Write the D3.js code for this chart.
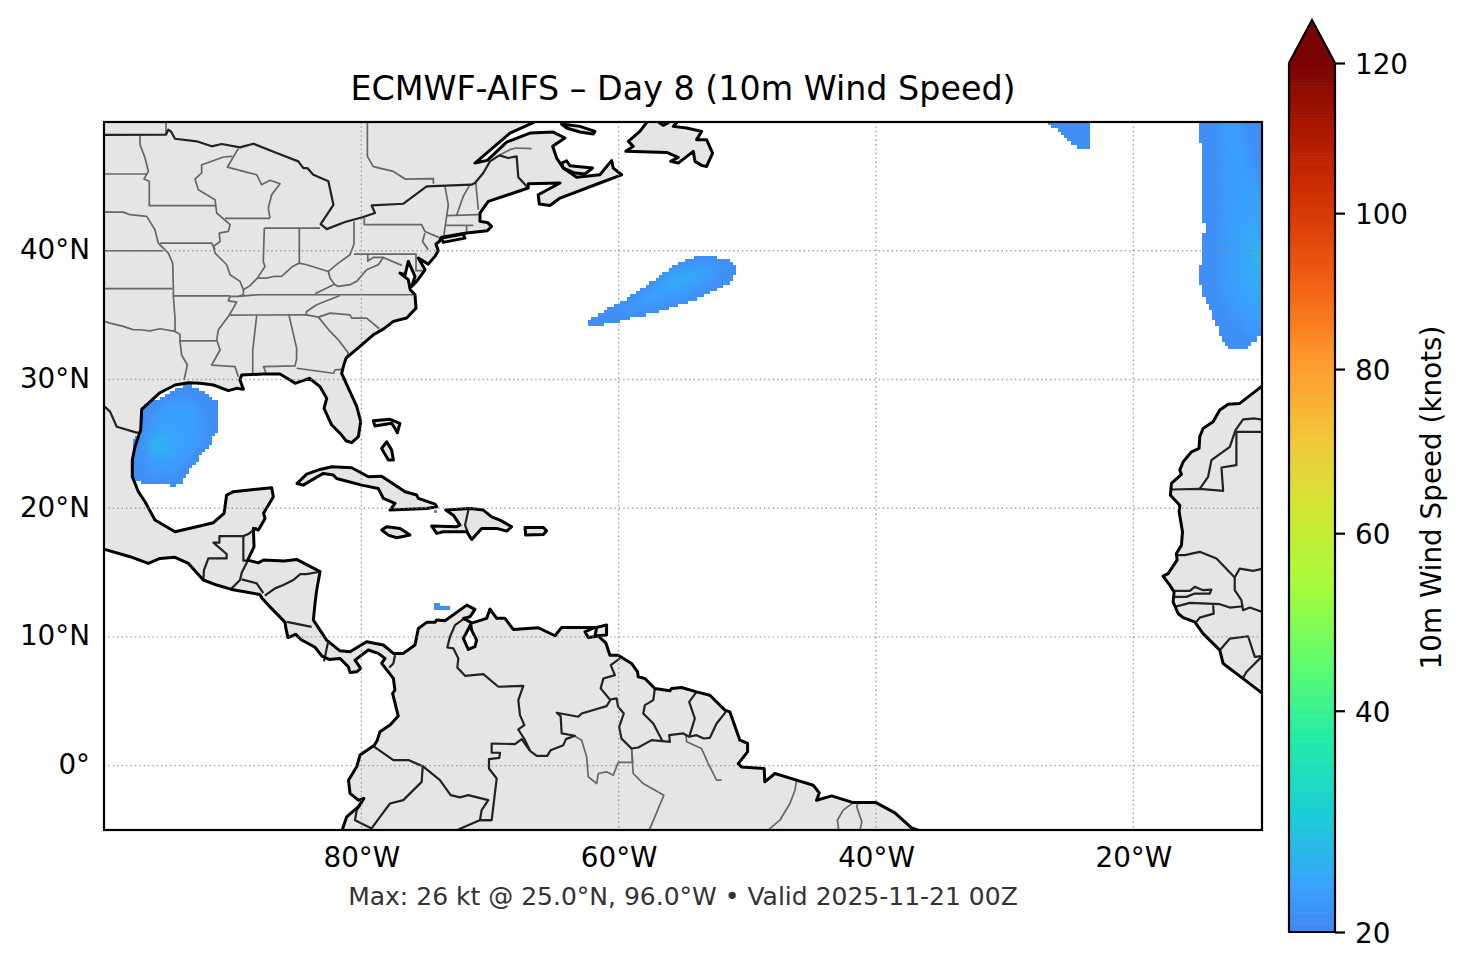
<!DOCTYPE html>
<html lang="en">
<head>
<title>ECMWF-AIFS Day 8 10m wind speed</title>
<meta charset="utf-8">

<script src="https://d3js.org/d3.v7.min.js"></script>

<style type="text/css">

body {
	margin: 0;
	background: #fff;
	font-family: "DejaVu Sans", sans-serif;
}

svg {
	display: block;
}

</style>

</head>

<body>

<div id="vis"></div>


<script>


/* Data: all in lon/lat degrees or knots */
/* ===================================== */

var lonTicks = [-80, -60, -40, -20];
var latTicks = [40, 30, 20, 10, 0];
var windTicks = [20, 40, 60, 80, 100, 120];

var turboStops = ['#30123b','#4145ab','#4675ed','#39a2fc','#1bcfd4','#24eca6','#61fc6c','#a4fc3b','#d1e834','#f3c63a','#fe9b2d','#f36315','#d93806','#b11901','#7a0403'];

// the Americas, running clockwise, closed off-frame
var landAmericas = [[-102,52],[-66.3,52],[-66.4,50.2],[-66.64,49.95],[-68.45,49.14],[-71.17,46.81],[-70.21,47.02],[-68.71,48.44],[-66.9,49.14],[-65.08,49.22],[-64.18,48.76],[-65.13,48.11],[-64.82,47.2],[-64.3,46.42],[-63.27,45.7],[-61.46,45.9],[-60.55,47],[-60.42,46.42],[-59.77,45.9],[-61.46,45.26],[-64.56,44.09],[-65.34,43.52],[-66.17,43.63],[-66.25,44.35],[-64.56,45.26],[-67.03,45.2],[-67.03,44.87],[-70.13,43.83],[-70.78,42.93],[-70.78,42.28],[-70.21,42.2],[-69.88,41.89],[-70.21,41.55],[-71.82,41.37],[-73.76,41.04],[-73.94,40.72],[-74.2,40.52],[-74.02,40],[-74.28,39.56],[-74.8,38.96],[-75.57,39.43],[-75.05,38.52],[-75.7,37.62],[-76.09,37.23],[-75.83,38],[-76.35,39.17],[-76.6,38.13],[-77,38.26],[-76.35,37.75],[-76.2,36.97],[-75.83,36.58],[-75.75,35.54],[-76.48,34.77],[-77.51,34.51],[-78.29,33.91],[-79.07,33.47],[-79.97,32.69],[-81.19,31.66],[-81.4,31],[-81.53,30.48],[-81,29.3],[-80.36,27.9],[-80.05,26.72],[-80.23,25.55],[-80.75,25.09],[-81.19,25.24],[-81.53,25.68],[-82.3,26.46],[-82.9,27.76],[-82.69,28.53],[-83.21,29.44],[-84.04,30.09],[-85.15,29.7],[-85.54,29.96],[-86.32,30.42],[-87.6,30.42],[-89.3,30.35],[-89.43,29.96],[-89.17,29.23],[-89.69,29.31],[-90.34,29.13],[-91.5,29.57],[-92.54,29.7],[-93.44,29.75],[-94.48,29.57],[-95.65,28.97],[-97.07,27.68],[-97.15,26.07],[-97.59,24.78],[-97.8,23.74],[-97.8,22.45],[-97.33,21.28],[-96.81,20.5],[-96.04,19.08],[-94.48,18.17],[-92.8,18.56],[-91.5,18.87],[-90.67,19.6],[-90.47,21.02],[-89.95,21.28],[-86.97,21.59],[-86.84,20.89],[-87.6,19.6],[-87.48,19.2],[-88,18.3],[-88.39,18.43],[-88.34,17],[-88.83,15.97],[-88,15.75],[-87.6,15.97],[-86,15.9],[-85.03,16.02],[-83.21,15.07],[-83.35,14.3],[-83.47,13.63],[-83.6,12.6],[-83.73,11.3],[-82.7,9.75],[-81.66,8.92],[-80.88,8.85],[-79.59,9.62],[-78.29,9.37],[-77.51,8.72],[-76.74,8.72],[-75.83,9.37],[-75.57,10.66],[-74.92,11.13],[-74.28,11.13],[-74.15,11.31],[-73.5,11.26],[-71.8,12.47],[-71.17,12.14],[-71.55,11.57],[-72.07,11.44],[-71.43,11.1],[-72.07,9.88],[-71.69,9.03],[-71.17,9.24],[-71.04,9.75],[-71.43,10.53],[-71.5,11.05],[-70.26,11.44],[-70,12.16],[-69.48,11.44],[-68.84,11.44],[-68.19,10.58],[-66.25,10.71],[-64.95,10.09],[-64.43,10.74],[-61.84,10.74],[-62.62,10.4],[-62.36,9.96],[-61.58,10.06],[-61,9.54],[-60.68,8.58],[-60.04,8.58],[-59,7.94],[-58.53,7.29],[-58.48,6.9],[-57.96,6.77],[-57.19,5.99],[-56.02,5.81],[-55.89,5.99],[-55.11,6.07],[-53.95,5.73],[-52.91,5.47],[-51.74,4.31],[-51.36,4.18],[-50.58,1.98],[-49.98,1.72],[-49.98,1.07],[-50.71,0.16],[-50.45,-0.1],[-48.69,-0.22],[-48.64,-1.26],[-47.86,-0.61],[-46.17,-1.13],[-44.88,-1.52],[-44.41,-2.12],[-44.62,-2.69],[-43.45,-2.35],[-41.77,-2.87],[-40,-2.87],[-38.53,-3.67],[-37.24,-4.84],[-36.5,-5.1],[-35,-5.3],[-35,-7],[-81.4,-7],[-81.45,-4.88],[-81.14,-3.98],[-80.24,-3.2],[-79.8,-2.55],[-80.24,-2.68],[-80.88,-2.16],[-81,-1.13],[-80.36,-0.09],[-80.1,0.82],[-78.99,1.59],[-78.76,1.98],[-78.55,2.63],[-77.77,3.15],[-77.13,3.85],[-77.31,4.57],[-77.57,5.61],[-77.39,5.87],[-77.51,6.78],[-78.42,7.94],[-78.16,8.33],[-78.68,8.72],[-79.46,8.98],[-80.49,8.2],[-80.05,7.55],[-80.36,7.29],[-80.88,7.24],[-81.01,7.68],[-81.66,8.33],[-82.5,8.25],[-83.06,8.51],[-83.6,9.2],[-84.7,9.8],[-85.1,10.2],[-85.7,9.95],[-85.85,10.6],[-85.94,11.15],[-87.25,12.49],[-87.72,13.01],[-87.9,13.3],[-90.08,13.69],[-91.24,14.03],[-92.28,14.42],[-93.44,15.71],[-94.48,16.18],[-95.65,16.1],[-96.55,15.71],[-97.98,16.23],[-99.95,16.8],[-102,17.6]];

var landAfrica = [[-8,31],[-9.5,30],[-10.12,29.38],[-11.73,28.14],[-12.63,28.08],[-13.28,27.62],[-13.8,26.71],[-14.58,26.19],[-14.84,25.55],[-14.89,24.64],[-15.48,24.38],[-16.13,23.6],[-16.39,22.96],[-16.26,22.62],[-17.04,21.92],[-17.12,21],[-16.39,20.23],[-16.44,19.72],[-16.18,18.16],[-16.26,17.13],[-16.65,16.48],[-16.6,15.96],[-17.3,14.92],[-17.69,14.72],[-17.17,14.02],[-16.83,13.5],[-16.91,12.72],[-16.52,11.82],[-16.13,11.5],[-15.23,11.17],[-14.58,10.26],[-13.28,8.97],[-13.02,7.93],[-11.47,6.76],[-10.12,5.73],[-9,5],[-8,4.5]];

var islands = [
	// Cuba, Great Bahama, Andros, Jamaica, Hispaniola, Puerto Rico
	[[-85,21.92],[-84.25,22.65],[-83.21,23.01],[-82.3,23.22],[-80.75,23.14],[-79.45,22.44],[-78.42,22.49],[-76.6,21.28],[-75.7,21.02],[-75.57,20.76],[-74.27,20.32],[-74.14,20.11],[-74.92,19.98],[-77.77,19.85],[-77.38,20.37],[-78.29,20.76],[-78.68,21.53],[-79.97,21.79],[-81.92,22.31],[-82.17,22.57],[-82.95,22.7],[-83.86,22.18],[-84.51,21.79]],
	[[-79.07,26.79],[-77.77,26.9],[-77,26.59],[-77.2,25.86],[-77.38,26.2],[-77.64,26.59],[-78.94,26.38]],
	[[-78.03,25.16],[-78.42,24.64],[-77.9,23.74],[-77.51,23.74],[-77.64,24.51]],
	[[-78.42,18.3],[-78.03,18.56],[-76.99,18.43],[-76.22,17.91],[-77.25,17.7],[-77.9,17.91]],
	[[-74.53,18.61],[-72.59,18.56],[-72.33,18.68],[-72.85,19.46],[-73.44,19.85],[-71.55,19.98],[-70.52,19.85],[-69.87,19.33],[-69.22,19.07],[-68.32,18.56],[-68.7,18.22],[-69.48,18.43],[-70.65,18.43],[-71.42,17.57],[-71.81,18.17],[-73.63,18.17],[-74.14,18.04]],
	[[-67.28,18.5],[-65.85,18.5],[-65.6,18.24],[-65.85,17.96],[-67.23,17.91]],
	// Trinidad, Long Island
	[[-61.71,10.74],[-60.94,10.92],[-60.94,10.14],[-61.84,10.07]],
	[[-73.76,40.98],[-72.08,41.3],[-71.95,40.98],[-73.63,40.65]],
	// Newfoundland, Prince Edward Island, Anticosti
	[[-57.83,49.95],[-58.35,49.27],[-59.25,48.5],[-58.87,48.11],[-59.44,47.72],[-56.27,47.64],[-55.37,47.25],[-55.96,46.94],[-55.37,46.81],[-54.2,47.72],[-54.07,46.94],[-53.55,46.63],[-53.17,46.55],[-52.7,47.59],[-53.17,48.63],[-53.94,48.63],[-53.55,49.27],[-54.72,49.53],[-55.76,49.66],[-55.5,49.95],[-55.6,50.5],[-56.1,50.5],[-56.15,49.95],[-56.53,49.74],[-56.84,49.95],[-56.9,50.5],[-57.3,51]],
	[[-64.44,46.81],[-64.05,46.99],[-63.79,46.6],[-62.03,46.42],[-62.62,45.96],[-63.4,46.03],[-64.3,46.42]],
	[[-64.44,49.84],[-63.01,49.66],[-61.84,49.27],[-61.97,49.07],[-63.01,49.22],[-64.05,49.53]]
];

// country borders
var countryBorders = [
	[[-102,49],[-95.18,49.01],[-95,49.4],[-94.8,49.27],[-94.48,48.7],[-92.8,48.5],[-91.63,48.11],[-90.85,48.29],[-89.43,48.03],[-88.39,48.31],[-86.58,47.59],[-84.9,46.94],[-84.51,46.42],[-84.2,46.42],[-83.73,45.9],[-82.56,45.39],[-82.17,43.57],[-83.16,42.07],[-82.69,41.68],[-81.27,42.23],[-79.84,42.62],[-78.94,42.93],[-79.2,43.52],[-76.73,43.65],[-74.92,45],[-71.43,45.13],[-71.17,45.26],[-70.52,46.04],[-70,46.94],[-69.28,47.41],[-68.58,47.2],[-67.93,47.33],[-67.8,45.7],[-67.03,44.87]],
	[[-99.95,27.89],[-99.53,27.5],[-99.01,26.33],[-97.46,25.87],[-97.15,25.87]],
	[[-92.28,14.42],[-92.23,15.19],[-91.89,16.1],[-90.47,16.1],[-90.47,16.44],[-91.11,17],[-91.5,17.32],[-91.03,17.32],[-91.03,17.83],[-89.17,17.83],[-89.17,15.92],[-88.83,15.92]],
	[[-89.17,17.83],[-88.78,17.99],[-88.13,18.5]],
	[[-88.83,15.92],[-89.3,14.98],[-89.43,14.42],[-90.08,13.77]],
	[[-89.3,14.47],[-88.13,14.16],[-87.62,13.4]],
	[[-83.21,15.06],[-84.25,14.88],[-84.75,14.88],[-85.28,14.42],[-86.06,14.03],[-86.71,13.77],[-87.5,13.2]],
	[[-85.8,11.17],[-83.86,10.78]],
	[[-82.6,9.55],[-82.9,8.1]],
	[[-77.38,8.59],[-77.51,7.94],[-77.83,7.63]],
	[[-71.87,11.52],[-72.72,10.92],[-73.11,10.01],[-73.32,9.18],[-72.85,9.11],[-72.46,8.33],[-72.54,7.63],[-71.94,6.98],[-70.52,7.11],[-69.35,6.13],[-67.41,6.2],[-67.8,5.09],[-67.67,3.92],[-67.33,3.15],[-67.8,2.81],[-67.28,1.98],[-66.89,1.15]],
	[[-66.89,1.15],[-67.54,2.06],[-68.06,1.67],[-69.87,1.72],[-69.87,1],[-69.22,1],[-69.28,0.61],[-70.08,0.51],[-70.08,-0.22],[-69.48,-1],[-69.87,-4.24],[-70.8,-4.24],[-72.33,-4.9],[-73,-5.3]],
	[[-69.87,-4.24],[-70.78,-4.24],[-70.65,-3.46],[-70.13,-2.68],[-71.69,-2.29],[-72.33,-2.47],[-73.06,-2.29],[-73.89,-1.13],[-75.23,-0.04]],
	[[-78.99,1.46],[-77.51,0.43],[-76.35,0.43],[-75.23,-0.04],[-75.31,-1.26],[-76.74,-2.68],[-77.77,-2.94],[-78.55,-3.98],[-79.2,-4.88],[-80.49,-4.24],[-80.36,-3.46],[-79.95,-2.9]],
	[[-66.89,1.15],[-66.37,0.76],[-65.55,0.76],[-65.29,1.2],[-64.3,1.59],[-64.1,2.06],[-63.4,2.32],[-64.43,2.5],[-64.51,3.85],[-64.82,4.11],[-63.14,3.8],[-62.88,4.05],[-60.94,4.62],[-60.62,5.14],[-60.16,5.22],[-60.04,4.57],[-59.6,4.05],[-59.96,3.01],[-59.78,2.1],[-59,1.33],[-58.48,1.41],[-57.44,1.98],[-56.02,1.85],[-56.07,2.37],[-54.98,2.5],[-54.52,2.24],[-53.95,2.37],[-53.38,2.11],[-52.91,2.16],[-52.39,3.27],[-51.67,4.18]],
	[[-59.9,8.33],[-60.62,7.81],[-60.29,7.03],[-61.19,6.77],[-61.4,6],[-60.68,5.14]],
	[[-57.19,5.99],[-57.31,5.09],[-57.96,4.7],[-58.09,4.05],[-57.31,3.27],[-56.59,1.9]],
	[[-53.95,5.73],[-54.52,4.96],[-54.08,3.66],[-54.52,2.24]],
	[[-17.12,21.45],[-14.84,21.5],[-13.02,21.35],[-13.15,23.16],[-11.99,23.34],[-11.99,25.93],[-9,25.93]],
	[[-14.84,21.5],[-14.19,22.44],[-13.93,23.73],[-12.5,24.77],[-12.06,26.06],[-11.47,26.9],[-10.56,26.97],[-9,26.7]],
	[[-16.57,16.35],[-16,16.35],[-14.84,16.61],[-13.54,16.09],[-12.12,14.61],[-11.73,15.31],[-10.69,15.13],[-9,15.5]],
	[[-12.12,14.61],[-12.12,13.63],[-11.6,12.85],[-11.47,12.07],[-10.95,12.28],[-9,11.6]],
	[[-16.78,12.33],[-15.61,12.64],[-13.28,12.54],[-12.5,12.28],[-11.47,12.38]],
	[[-16.78,13.58],[-15.61,13.58],[-15.23,13.89],[-14.58,13.63],[-13.93,13.68],[-14.06,13.37],[-15.23,13.37],[-15.87,13.11],[-16.83,13.11]],
	[[-13.8,12.46],[-13.75,11.81],[-14.84,11.5],[-15.1,11.17]],
	[[-13.28,8.97],[-12.5,9.87],[-11.08,10.05],[-10.56,8.45],[-9,8.6]],
	[[-10.04,8.45],[-11.21,7.28],[-11.47,6.82]]
];

// US states, Canadian provinces, Brazilian states
var stateBorders = [
	[[-95.18,50.5],[-95.18,49]],
	[[-79.53,50.5],[-79.53,47.33],[-79.07,46.53],[-77.51,46.16],[-76.6,45.57],[-74.4,45.6],[-74.4,45.2]],
	[[-69.28,47.41],[-68.45,47.85],[-68,47.98],[-66.77,47.93]],
	[[-102,45.96],[-96.68,45.96]],
	[[-97.2,48.96],[-97.2,48.24],[-96.81,47.2],[-96.55,46.16],[-96.89,45.57],[-96.48,45.39],[-96.48,43.45]],
	[[-96.48,43.5],[-91.3,43.5]],
	[[-102,43],[-98.5,43],[-97.98,42.8],[-96.68,42.67],[-96.04,41.63],[-95.78,40.59],[-95,39.82],[-94.66,39.04],[-94.61,37.1],[-94.61,36.45],[-94.48,34.77],[-94.48,33.73]],
	[[-102,40],[-95.39,40]],
	[[-102,37.05],[-94.66,37.05]],
	[[-95.65,40.59],[-91.63,40.59],[-91.37,40.08]],
	[[-90,47.33],[-90.72,47.28],[-92,46.81],[-92.41,46.68],[-92.41,46.04],[-92.93,45.57],[-92.67,44.74],[-91.37,43.96],[-91.24,42.93],[-90.2,42.02],[-90.34,41.5],[-91.04,41.37],[-90.98,40.72],[-91.5,40.33],[-91.37,39.82],[-90.46,38.91],[-90.2,38.13],[-89.43,37.62],[-89.17,36.97],[-89.17,36.58],[-89.56,36.45],[-90.2,36.45],[-90.34,36.11],[-89.69,36.01],[-89.95,35.54],[-90.34,34.89],[-91.11,33.86],[-91.24,33.08],[-90.98,32.29],[-91.63,31.12],[-89.82,31],[-89.56,30.2]],
	[[-89.56,47.93],[-90.41,46.5],[-88.13,45.9],[-87.75,45.13],[-87.1,45.47],[-86.32,45.2],[-86.97,44.35],[-87.23,43.32],[-87.1,42.54]],
	[[-90.6,42.51],[-87.1,42.51]],
	[[-87.54,41.76],[-83.2,41.76]],
	[[-87.54,41.76],[-87.62,39.17],[-87.49,38.78],[-88.08,37.87]],
	[[-84.82,41.76],[-84.82,39.04]],
	[[-89.17,36.97],[-88.7,37.25],[-88.08,37.87],[-87.36,37.87],[-86.84,38],[-86.19,38],[-85.41,38.73],[-84.82,39.04],[-84.25,38.91],[-82.56,38.39],[-81.79,39.04],[-80.88,39.69],[-80.57,40.52],[-80.57,42.28]],
	[[-82.56,38.39],[-82.43,37.87],[-82.05,37.36],[-81.79,37.23],[-80.88,37.36],[-80.36,37.62],[-79.59,38.52],[-78.68,38.91],[-78.29,39.48],[-76.86,38.86]],
	[[-82.05,37.41],[-83.6,36.66]],
	[[-80.57,39.74],[-75.7,39.74]],
	[[-79.5,39.74],[-79.5,39.2],[-79.07,39.48],[-78.29,39.48]],
	[[-75.75,39.74],[-75.75,38.45],[-75.05,38.45]],
	[[-89.56,36.45],[-88,36.58],[-83.73,36.58],[-75.83,36.58]],
	[[-81.66,36.52],[-82.69,36.11],[-83.47,35.8],[-84.25,35.28],[-84.3,35.02]],
	[[-90.2,35],[-84.3,35.02],[-83.34,34.84],[-82.43,35.15],[-80.88,35.02],[-80.75,34.77],[-79.59,34.77],[-78.6,33.94]],
	[[-83.34,34.84],[-82.43,33.73],[-81.79,33.08],[-81.01,32.05],[-81.19,31.66]],
	[[-88.13,34.97],[-88.44,32.29],[-88.44,30.48]],
	[[-85.62,34.97],[-85.03,32.43],[-85.03,31.6],[-85.15,31.05],[-87.6,31],[-87.4,30.48]],
	[[-85.03,30.87],[-82.17,30.48],[-82.04,30.74],[-81.53,30.79]],
	[[-94.1,33],[-91.24,33]],
	[[-94.48,33.73],[-94.1,33.52],[-94.1,33],[-93.96,31.9],[-93.52,31.12],[-93.78,29.96]],
	[[-102,34.8],[-99.95,34.51],[-99.53,34.38],[-98.5,34.12],[-97.72,33.86],[-97.2,33.86],[-96.42,33.78],[-95.65,33.94],[-94.48,33.73]],
	[[-94.61,36.5],[-90.2,36.5]],
	[[-79.77,42.54],[-79.77,42.02],[-75.32,42.02],[-75.06,41.5],[-73.89,41]],
	[[-75.06,41.37],[-75.24,40.72],[-74.8,40.08]],
	[[-73.5,45],[-73.24,43.57],[-73.58,41.24]],
	[[-71.56,45.13],[-72.08,44.22],[-72.6,42.74]],
	[[-71.1,45.26],[-70.91,43.18]],
	[[-73.37,42.72],[-70.91,42.8]],
	[[-73.5,41.97],[-71.3,41.97]],
	[[-71.82,41.97],[-71.82,41.45]],
	[[-63.4,2.29],[-62.88,1.98],[-62.49,0.69],[-62.36,-0.87],[-61.71,-1.39],[-61.58,-0.61],[-60.94,-0.48],[-60.42,-0.74],[-60.03,0.25],[-58.91,0.25],[-58.99,1.26]],
	[[-59,1.33],[-58.87,-0.61],[-58.09,-1.39],[-56.49,-2.3],[-57.57,-4.89],[-58,-5.5]],
	[[-54.77,2.37],[-54.72,1.85],[-53.56,1.33],[-53.04,0.16],[-52.39,-1.13],[-52,-1.13]],
	[[-46.17,-1.13],[-46.3,-1.91],[-46.69,-2.94],[-47.47,-4.24],[-48.25,-4.89],[-48.8,-5.5]],
	[[-41.77,-2.87],[-42.55,-3.46],[-43,-4.24],[-42.9,-5.02],[-42.9,-5.5]],
	[[-41.38,-2.87],[-41.5,-3.2],[-41.1,-4.37],[-41.25,-5.02],[-41.25,-5.5]]
];

// Haiti / Dominican Republic, drawn with the country borders
var hispaniolaBorder = [[-71.68,19.85],[-71.94,18.68],[-71.55,17.65]];

// wind field above 20 kt: rows of [latNorth, latSouth, lonWest, lonEast]
var gulfRows = [[29.625,29.375,-93.875,-93.125],[29.375,29.125,-94.5,-92.625],[29.125,28.875,-94.875,-92.125],[28.875,28.625,-95.25,-91.875],[28.625,28.375,-95.625,-91.625],[28.375,28.125,-96.5,-91.125],[28.125,27.875,-96.875,-91.125],[27.875,25.875,-97.125,-91.125],[25.875,25.625,-97.125,-91.375],[25.625,25.375,-97.625,-91.625],[25.375,24.875,-97.75,-91.625],[24.875,24.625,-97.75,-91.875],[24.625,24.375,-97.75,-92.125],[24.375,24.125,-97.75,-92.375],[24.125,23.625,-97.75,-92.625],[23.625,23.375,-97.75,-92.875],[23.375,23.125,-97.75,-93.125],[23.125,22.625,-97.75,-93.375],[22.625,22.375,-97.75,-93.625],[22.375,22.125,-97.75,-93.875],[22.125,21.875,-97.125,-93.875],[21.875,21.625,-94.875,-94.375]];

var atlanticRows = [[39.625,39.375,-54.125,-52.375],[39.375,39.125,-54.875,-51.375],[39.125,38.875,-55.375,-51.125],[38.875,38.625,-55.875,-50.875],[38.625,38.375,-56.125,-50.875],[38.375,38.125,-56.625,-50.875],[38.125,37.875,-56.875,-51.125],[37.875,37.625,-57.125,-51.125],[37.625,37.375,-57.625,-51.375],[37.375,37.125,-57.875,-51.875],[37.125,36.875,-58.375,-52.375],[36.875,36.625,-58.625,-52.875],[36.625,36.375,-59.125,-53.375],[36.375,36.125,-59.375,-53.875],[36.125,35.875,-59.875,-54.625],[35.875,35.625,-60.375,-55.375],[35.625,35.375,-60.875,-56.125],[35.375,35.125,-61.125,-56.875],[35.125,34.875,-61.625,-57.875],[34.875,34.625,-62.125,-59.125],[34.625,34.375,-62.375,-59.875],[34.375,34.125,-62.375,-61.125]];

var eastRows = [[50.5,48.375,-14.875,-9],[48.375,42.125,-14.625,-9],[42.125,41.375,-14.375,-9],[41.375,38.875,-14.625,-9],[38.875,37.375,-14.875,-9],[37.375,36.375,-14.625,-9],[36.375,35.875,-14.375,-9],[35.875,35.375,-14.125,-9],[35.375,34.625,-13.875,-9],[34.625,34.125,-13.625,-9],[34.125,33.375,-13.375,-9],[33.375,32.875,-13.125,-10.375],[32.875,32.625,-12.875,-10.875],[32.625,32.375,-12.625,-11.125]];

var northRows = [[50.5,49.75,-26.625,-23.375],[49.75,49.5,-26.375,-23.375],[49.5,49.25,-25.875,-23.375],[49.25,49,-25.625,-23.375],[49,48.75,-25.375,-23.375],[48.75,48.5,-25.125,-23.375],[48.5,48.25,-24.875,-23.375],[48.25,47.875,-24.375,-23.375]];

var speckRows = [[19.875,19.625,-74.375,-74.125],[12.625,12.375,-74.375,-73.875],[12.375,12.125,-74.375,-73.125]];

// lines of equal speed read from the shading: { kt, ring }
var gulfBands = [
	{ kt: 22, ring: [[-96.9,24],[-96.9,25.8],[-96.2,27.5],[-94.5,28.7],[-92.8,28.3],[-91.9,26.5],[-92.2,25.2],[-93.5,23.6],[-95,22.4],[-96.6,22.6]] },
	{ kt: 23, ring: [[-96.7,24.9],[-95.9,26.3],[-94.8,27.8],[-93.4,27.8],[-92.7,26.5],[-93.2,25.2],[-94.3,24],[-95.5,23.2],[-96.4,23.6]] },
	{ kt: 24, ring: [[-96.6,24.8],[-95.9,25.8],[-95,26.2],[-94.3,25.4],[-94.6,24.3],[-95.6,23.9],[-96.3,24.1]] },
	{ kt: 25, ring: [[-96.5,24.9],[-95.9,25.6],[-95.2,25.3],[-95.3,24.5],[-96,24.3]] },
	{ kt: 26.5, ring: [[-96.35,24.9],[-95.9,25.35],[-95.45,25],[-95.9,24.55]] }
];

var atlanticBands = [
	{ kt: 22, ring: [[-60,35.3],[-58,36.7],[-56,38.6],[-54,39.2],[-52,38.8],[-52.3,37.9],[-54.5,36.6],[-57,35.7],[-59.5,35]] },
	{ kt: 23, ring: [[-58.3,36.2],[-56.8,37.5],[-55.3,38.6],[-53.5,38.7],[-53.2,38],[-55,36.9],[-57,36.1]] },
	{ kt: 24.5, ring: [[-56.8,37],[-55.7,38],[-54.3,38.4],[-54.2,37.8],[-55.5,37.1]] }
];

var eastBands = [
	{ kt: 22, ring: [[-13.4,50.5],[-13.2,45],[-13.4,41],[-13.4,37.5],[-12.5,35],[-11,33.5],[-9.5,33.3],[-9.5,45],[-11,47],[-11.5,50.5]] },
	{ kt: 23, ring: [[-12.8,50.5],[-12.8,48],[-12,47],[-12,44],[-12.6,41],[-12.6,38],[-11.8,35.5],[-10.5,34.5],[-9.5,34.5],[-9.5,44],[-11.5,46],[-12,50.5]] },
	{ kt: 24, ring: [[-11.5,42],[-11.5,38],[-10.5,36],[-9.5,36],[-9.5,42]] },
	{ kt: 25, ring: [[-10.7,40.5],[-10.8,38.5],[-10.2,37.5],[-9.5,37.5],[-9.5,41]] },
	{ kt: 26.5, ring: [[-10.4,40],[-10.4,38.5],[-9.5,38.3],[-9.5,40.2]] }
];

var baseWind = 20.8;

var titleText = 'ECMWF-AIFS \u2013 Day 8 (10m Wind Speed)';
var noteText = 'Max: 26 kt @ 25.0\u00b0N, 96.0\u00b0W \u2022 Valid 2025-11-21 00Z';
var cbarText = '10m Wind Speed (knots)';


/* Globals and SVG */
/* =============== */

var width = 1466,
		height = 969;

var map = { left: 104, right: 1262, top: 122, bottom: 830 };
var cbar = { left: 1289, right: 1335, top: 63, bottom: 932, tip: 20 };

var x = d3.scaleLinear().domain([-100, -10]).range([map.left, map.right]);
var y = d3.scaleLinear().domain([-5, 50]).range([map.bottom, map.top]);

// colour bar runs on a power norm above 20 kt
var cbarNorm = d3.scalePow().exponent(0.85).domain([0, 100]).range([0, 1]);
var cbarY = d3.scalePow().exponent(0.85).domain([0, 100]).range([cbar.bottom, cbar.top]);

var turbo = d3.piecewise(d3.interpolateRgb, turboStops);

function windColor(kt) {
	return turbo(0.17 + 0.83 * cbarNorm(kt - 20));
}

var geoLine = d3.line().x(function(d) { return x(d[0]); }).y(function(d) { return y(d[1]); });

var svg = d3.select('#vis')
	.append('svg')
		.attr('width', width)
		.attr('height', height);

var defs = svg.append('defs');

defs.append('clipPath').attr('id', 'map-clip')
	.append('rect')
		.attr('x', map.left)
		.attr('y', map.top)
		.attr('width', map.right - map.left)
		.attr('height', map.bottom - map.top);

defs.append('filter').attr('id', 'soft')
		.attr('filterUnits', 'userSpaceOnUse')
		.attr('x', 0).attr('y', 0).attr('width', width).attr('height', height)
	.append('feGaussianBlur')
		.attr('stdDeviation', 3.5);

var plot = svg.append('g').attr('clip-path', 'url(#map-clip)');


/* Functions */
/* ========= */

function drawRows(sel, rows, kt) {

	sel.selectAll(null)
		.data(rows)
		.enter().append('rect')
			.attr('x', function(d) { return x(d[2]); })
			.attr('y', function(d) { return y(d[0]); })
			.attr('width', function(d) { return x(d[3]) - x(d[2]); })
			.attr('height', function(d) { return y(d[1]) - y(d[0]); })
			.attr('fill', windColor(kt))
			.attr('shape-rendering', 'crispEdges');

} // drawRows()

function drawBlob(name, rows, bands) {

	var clip = defs.append('clipPath').attr('id', 'clip-' + name);
	drawRows(clip, rows, baseWind);

	drawRows(plot.append('g'), rows, baseWind);

	plot.append('g')
			.attr('clip-path', 'url(#clip-' + name + ')')
		.append('g')
			.attr('filter', 'url(#soft)')
		.selectAll('path')
		.data(bands)
		.enter().append('path')
			.attr('d', function(d) { return geoLine(d.ring) + 'Z'; })
			.attr('fill', function(d) { return windColor(d.kt); });

} // drawBlob()

function drawLand(rings, fill, stroke) {

	plot.append('g')
		.selectAll('path')
		.data(rings)
		.enter().append('path')
			.attr('d', function(d) { return geoLine(d) + 'Z'; })
			.attr('fill', fill)
			.attr('stroke', stroke)
			.attr('stroke-width', 3)
			.attr('stroke-linejoin', 'round');

} // drawLand()

function drawBorders(lines, color, w) {

	plot.append('g')
		.selectAll('path')
		.data(lines)
		.enter().append('path')
			.attr('d', geoLine)
			.attr('fill', 'none')
			.attr('stroke', color)
			.attr('stroke-width', w)
			.attr('stroke-linejoin', 'round');

} // drawBorders()

function drawGrid() {

	var grid = plot.append('g')
		.attr('stroke', '#808080')
		.attr('stroke-opacity', 0.75)
		.attr('stroke-width', 1.4)
		.attr('stroke-dasharray', '1.4 3');

	grid.selectAll('.v')
		.data(lonTicks)
		.enter().append('line')
			.attr('x1', x).attr('x2', x)
			.attr('y1', map.top).attr('y2', map.bottom);

	grid.selectAll('.h')
		.data(latTicks)
		.enter().append('line')
			.attr('y1', y).attr('y2', y)
			.attr('x1', map.left).attr('x2', map.right);

} // drawGrid()

function fmtLon(d) { return Math.abs(d) + '\u00b0W'; }
function fmtLat(d) { return d === 0 ? '0\u00b0' : d + '\u00b0N'; }

function drawAxes() {

	var xAxis = svg.append('g')
		.attr('transform', 'translate(0,' + map.bottom + ')')
		.call(d3.axisBottom(x).tickValues(lonTicks).tickSize(0).tickPadding(17).tickFormat(fmtLon));

	var yAxis = svg.append('g')
		.attr('transform', 'translate(' + map.left + ',0)')
		.call(d3.axisLeft(y).tickValues(latTicks).tickSize(0).tickPadding(14).tickFormat(fmtLat));

	[xAxis, yAxis].forEach(function(a) {
		a.select('.domain').remove();
		a.selectAll('text')
			.attr('font-family', '"DejaVu Sans"')
			.attr('font-size', 27.8)
			.attr('fill', '#000');
	});

	yAxis.selectAll('text').attr('dy', '0.29em');

	svg.append('rect')
		.attr('x', map.left)
		.attr('y', map.top)
		.attr('width', map.right - map.left)
		.attr('height', map.bottom - map.top)
		.attr('fill', 'none')
		.attr('stroke', '#000')
		.attr('stroke-width', 2.2);

} // drawAxes()

function drawColorbar() {

	var steps = d3.range(0, 100, 100 / 256);

	svg.append('g')
		.selectAll('rect')
		.data(steps)
		.enter().append('rect')
			.attr('x', cbar.left)
			.attr('width', cbar.right - cbar.left)
			.attr('y', function(d) { return cbarY(d + 100 / 256); })
			.attr('height', function(d) { return cbarY(d) - cbarY(d + 100 / 256) + 0.6; })
			.attr('fill', function(d) { return windColor(d + 20 + 50 / 256); });

	svg.append('path')
		.attr('d', d3.line()([[cbar.left, cbar.top], [(cbar.left + cbar.right) / 2, cbar.tip], [cbar.right, cbar.top]]) + 'Z')
		.attr('fill', windColor(120));

	svg.append('path')
		.attr('d', d3.line()([[cbar.left, cbar.bottom], [cbar.left, cbar.top], [(cbar.left + cbar.right) / 2, cbar.tip], [cbar.right, cbar.top], [cbar.right, cbar.bottom]]) + 'Z')
		.attr('fill', 'none')
		.attr('stroke', '#000')
		.attr('stroke-width', 2.2);

	var axis = svg.append('g')
		.attr('transform', 'translate(' + cbar.right + ',0)')
		.call(d3.axisRight(cbarY)
			.tickValues(windTicks.map(function(v) { return v - 20; }))
			.tickSize(10)
			.tickPadding(10)
			.tickFormat(function(d) { return d + 20; }));

	axis.select('.domain').remove();
	axis.selectAll('line').attr('stroke', '#000').attr('stroke-width', 2.2);
	axis.selectAll('text')
		.attr('font-family', '"DejaVu Sans"')
		.attr('font-size', 27.8)
		.attr('dy', '0.37em')
		.attr('fill', '#000');

	svg.append('text')
		.attr('transform', 'translate(1431,497.5) rotate(-90)')
		.attr('dy', '0.35em')
		.attr('text-anchor', 'middle')
		.attr('font-size', 27.8)
		.text(cbarText);

} // drawColorbar()

function drawText() {

	svg.append('text')
		.attr('x', 683)
		.attr('y', 100)
		.attr('text-anchor', 'middle')
		.attr('font-size', 33.35)
		.text(titleText);

	svg.append('text')
		.attr('x', 683)
		.attr('y', 905)
		.attr('text-anchor', 'middle')
		.attr('font-size', 25)
		.attr('fill', '#333')
		.text(noteText);

} // drawText()


/* Build steps */
/* =========== */

function ready() {

	var allLand = [landAmericas, landAfrica].concat(islands);

	drawLand(allLand, '#e5e5e5', 'none');

	drawBlob('gulf', gulfRows, gulfBands);
	drawBlob('atlantic', atlanticRows, atlanticBands);
	drawBlob('east', eastRows, eastBands);
	drawRows(plot.append('g'), northRows, baseWind);
	drawRows(plot.append('g'), speckRows, baseWind);

	drawBorders(stateBorders, '#666', 1.7);
	drawBorders(countryBorders.concat([hispaniolaBorder]), '#222', 2.2);
	drawLand(allLand, 'none', '#000');

	drawGrid();
	drawAxes();
	drawColorbar();
	drawText();

} // ready()

ready();


</script>

</body>
</html>
